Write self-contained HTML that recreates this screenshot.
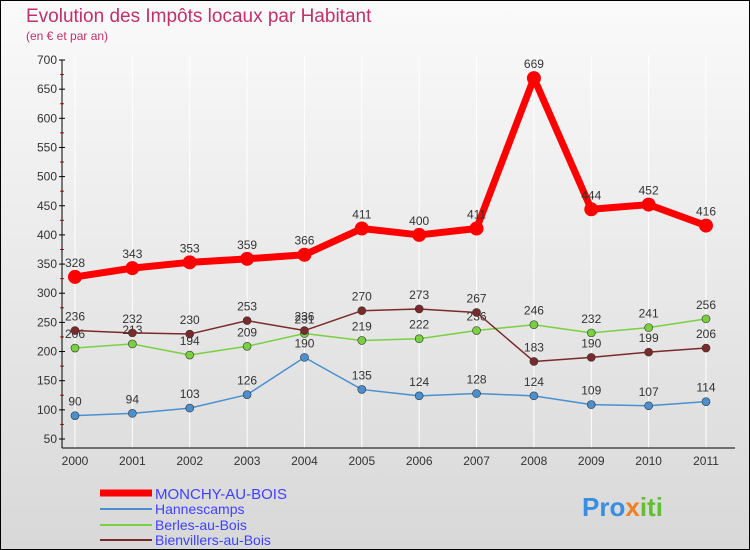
<!DOCTYPE html>
<html><head><meta charset="utf-8"><style>
body{margin:0}
#c{width:750px;height:550px;position:relative;overflow:hidden;font-family:"Liberation Sans",sans-serif}
</style></head><body>
<div id="c">
<svg id="s" width="750" height="550">
<defs><linearGradient id="bg" x1="0" y1="0" x2="0" y2="1"><stop offset="0" stop-color="#fafafa"/><stop offset="1" stop-color="#d8d8d8"/></linearGradient></defs>
<rect x="0.5" y="0.5" width="749" height="549" fill="url(#bg)" stroke="#000"/>
<text x="26" y="22" font-size="19" fill="#c0306a">Evolution des Impôts locaux par Habitant</text>
<text x="26" y="40" font-size="12" fill="#c0306a">(en € et par an)</text>
<g id="grid"></g><g id="axes"></g><g id="series"></g>
<g>
<line x1="100" y1="493" x2="152" y2="493" stroke="#f00" stroke-width="7"/><text x="155" y="499" font-size="15" fill="#4040ff">MONCHY-AU-BOIS</text>
<line x1="100" y1="509" x2="152" y2="509" stroke="#4a90d0" stroke-width="2"/><text x="155" y="514" font-size="14" fill="#4040ff">Hannescamps</text>
<line x1="100" y1="525" x2="152" y2="525" stroke="#7ad040" stroke-width="2"/><text x="155" y="530" font-size="14" fill="#4040ff">Berles-au-Bois</text>
<line x1="100" y1="540" x2="152" y2="540" stroke="#7a2a2a" stroke-width="2"/><text x="155" y="545" font-size="14" fill="#4040ff">Bienvillers-au-Bois</text>
</g>
<text x="582" y="516" font-size="26" font-weight="bold" fill="#3a8ee0">Pro<tspan fill="#f08020">x</tspan><tspan fill="#60c030">iti</tspan></text>
</svg></div>
<script>
const years=["2000","2001","2002","2003","2004","2005","2006","2007","2008","2009","2010","2011"];
const yTicks=[50,100,150,200,250,300,350,400,450,500,550,600,650,700];
const monchy=[328,343,353,359,366,411,400,411,669,444,452,416];
const hannescamps=[90,94,103,126,190,135,124,128,124,109,107,114];
const berles=[206,213,194,209,231,219,222,236,246,232,241,256];
const bienvillers=[236,232,230,253,236,270,273,267,183,190,199,206];
const NS="http://www.w3.org/2000/svg";
const X=i=>75+i*(706-75)/11;
const Y=v=>439-(v-50)*(439-60)/650;
function mk(t,a,p){const e=document.createElementNS(NS,t);for(const k in a)e.setAttribute(k,a[k]);p.appendChild(e);return e;}
const grid=document.getElementById('grid'),axes=document.getElementById('axes'),ser=document.getElementById('series');
years.forEach((y,i)=>{
 const l=mk('line',{x1:X(i),x2:X(i),y1:55,y2:448,stroke:'#fff','stroke-width':1},grid);
 
 
 const t=mk('text',{x:X(i),y:465,'font-size':12,fill:'#333','text-anchor':'middle'},axes);t.textContent=y;
 
 
});
yTicks.forEach(v=>{
 const t=mk('text',{x:57,y:Y(v)+4,'font-size':12,fill:'#333','text-anchor':'end'},axes);t.textContent=v;
 
 
 mk('line',{x1:59,x2:65,y1:Y(v),y2:Y(v),stroke:'#000'},axes);
 if(v<700)mk('line',{x1:60,x2:64,y1:Y(v+25),y2:Y(v+25),stroke:'#f00'},axes);
});
const ax=mk('line',{x1:62,x2:62,y1:60,y2:448,stroke:'#000'},axes);


const xa=mk('line',{x1:62,x2:735,y1:448,y2:448,stroke:'#000'},axes);


function draw(vals,color,w,r,name){
 const g=mk('g',{},ser);
 
 
 mk('polyline',{points:vals.map((v,i)=>X(i)+','+Y(v)).join(' '),fill:'none',stroke:color,'stroke-width':w,'stroke-linejoin':'round'},g);
 vals.forEach((v,i)=>{
  const c=mk('circle',{cx:X(i),cy:Y(v),r:r,fill:color,stroke:'#333','stroke-width':w>3?0:0.6},g);
  
  
  const t=mk('text',{x:X(i),y:Y(v)-10,'font-size':12,fill:'#333','text-anchor':'middle'},g);t.textContent=v;
  
  
 });
}
draw(berles,'#7ad040',1.5,4,'series-berles');
draw(hannescamps,'#4a90d0',1.5,4,'series-hannescamps');
draw(bienvillers,'#7a2a2a',1.5,4,'series-bienvillers');
draw(monchy,'#f00',7,7,'series-monchy');
</script>
</body></html>
